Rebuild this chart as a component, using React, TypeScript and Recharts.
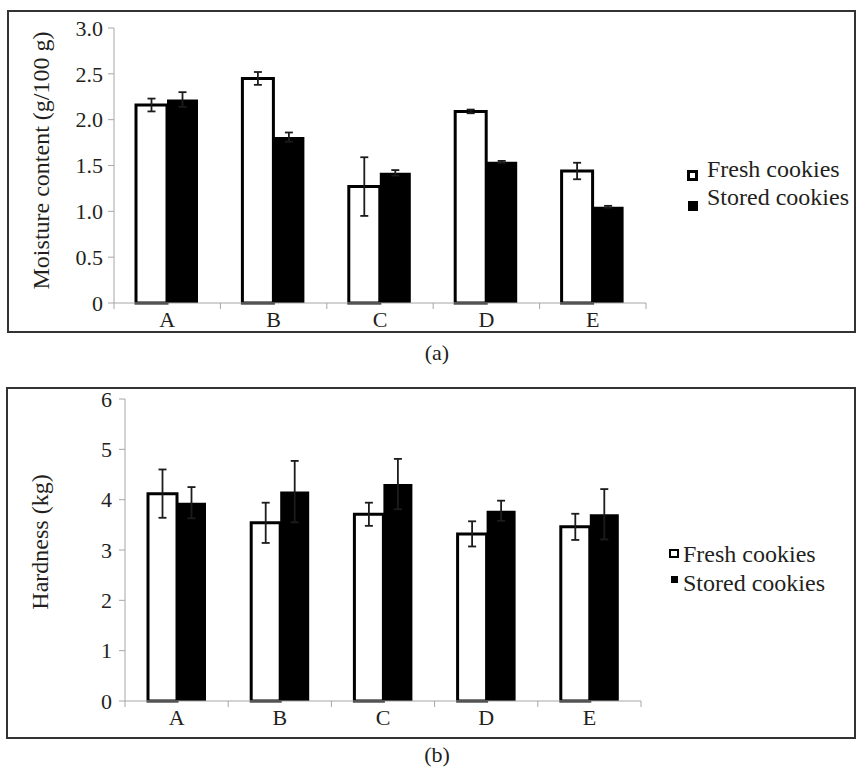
import React from 'react';
import { BarChart, Bar, XAxis, YAxis, ErrorBar, Legend } from 'recharts';

// samples and series
const samples = ['A', 'B', 'C', 'D', 'E'];
const seriesNames = ['Fresh cookies', 'Stored cookies'];

// (a) moisture content, g/100 g
const moistureFresh = [2.16, 2.45, 1.27, 2.09, 1.44];
const moistureFreshErr = [0.07, 0.07, 0.32, 0.02, 0.09];
const moistureStored = [2.22, 1.81, 1.42, 1.54, 1.05];
const moistureStoredErr = [0.08, 0.05, 0.03, 0.01, 0.01];
const moistureTicks = [0, 0.5, 1, 1.5, 2, 2.5, 3];

// (b) hardness, kg
const hardnessFresh = [4.12, 3.54, 3.71, 3.32, 3.46];
const hardnessFreshErr = [0.48, 0.4, 0.23, 0.25, 0.26];
const hardnessStored = [3.94, 4.16, 4.31, 3.78, 3.71];
const hardnessStoredErr = [0.31, 0.61, 0.5, 0.2, 0.5];
const hardnessTicks = [0, 1, 2, 3, 4, 5, 6];

const moistureData = samples.map((s, i) => ({
  sample: s,
  fresh: moistureFresh[i],
  freshErr: moistureFreshErr[i],
  stored: moistureStored[i],
  storedErr: moistureStoredErr[i],
}));

const hardnessData = samples.map((s, i) => ({
  sample: s,
  fresh: hardnessFresh[i],
  freshErr: hardnessFreshErr[i],
  stored: hardnessStored[i],
  storedErr: hardnessStoredErr[i],
}));

const FONT = "'Liberation Serif', 'Times New Roman', serif";
const TEXT = '#231f20';
const AXIS = '#a6a6a6';
const ERR = '#1c1c1c';

// category label at the centre, tick marks at the category boundaries
const CategoryTick = (props: any) => {
  const { x, y, payload } = props;
  const half = payload?.offset ?? 0;
  const axisY = y - 8;
  const last = payload.value === samples[samples.length - 1];
  return (
    <g>
      <line x1={x - half} x2={x - half} y1={axisY} y2={axisY + 6} stroke={AXIS} strokeWidth={1} />
      {last && <line x1={x + half} x2={x + half} y1={axisY} y2={axisY + 6} stroke={AXIS} strokeWidth={1} />}
      <text x={x} y={y} dy="0.71em" textAnchor="middle" fill={TEXT} fontSize={22} fontFamily={FONT}>
        {payload.value}
      </text>
    </g>
  );
};

const yTitle = (text: string, cx: number, shift: number) => (props: any) => {
  const vb = props.viewBox || { y: 0, height: 0 };
  const cy = vb.y + vb.height / 2 + shift;
  return (
    <text
      x={cx}
      y={cy}
      transform={`rotate(-90, ${cx}, ${cy})`}
      textAnchor="middle"
      dominantBaseline="central"
      fill={TEXT}
      fontSize={24}
      fontFamily={FONT}
    >
      {text}
    </text>
  );
};

const TopLegend = () => (
  <div style={{ fontFamily: FONT, fontSize: 24, color: TEXT, lineHeight: '28px', whiteSpace: 'nowrap' }}>
    <div style={{ position: 'relative', height: 28 }}>
      <span style={{ position: 'absolute', left: 0, top: 15, width: 11, height: 11, boxSizing: 'border-box', border: '3px solid #000', background: '#fff' }} />
      <span style={{ position: 'absolute', left: 20, top: 0 }}>{seriesNames[0]}</span>
    </div>
    <div style={{ position: 'relative', height: 28 }}>
      <span style={{ position: 'absolute', left: 1, top: 18, width: 10, height: 10, background: '#000' }} />
      <span style={{ position: 'absolute', left: 20, top: 0 }}>{seriesNames[1]}</span>
    </div>
  </div>
);

const BottomLegend = () => (
  <div style={{ fontFamily: FONT, fontSize: 24, color: TEXT, lineHeight: '29px', whiteSpace: 'nowrap' }}>
    <div style={{ position: 'relative', height: 29 }}>
      <span style={{ position: 'absolute', left: 0, top: 9, width: 10, height: 9, boxSizing: 'border-box', border: '2.5px solid #000', background: '#fff' }} />
      <span style={{ position: 'absolute', left: 14, top: 0 }}>{seriesNames[0]}</span>
    </div>
    <div style={{ position: 'relative', height: 29 }}>
      <span style={{ position: 'absolute', left: 2, top: 7, width: 7, height: 7, background: '#000' }} />
      <span style={{ position: 'absolute', left: 14, top: 0 }}>{seriesNames[1]}</span>
    </div>
  </div>
);

const frame: React.CSSProperties = {
  position: 'absolute',
  boxSizing: 'border-box',
  border: '2px solid #333',
};

const caption: React.CSSProperties = {
  position: 'absolute',
  width: 60,
  textAlign: 'center',
  fontFamily: FONT,
  fontSize: 22,
  color: TEXT,
  lineHeight: '26px',
};

export default function App() {
  return (
    <div style={{ position: 'absolute', left: 0, top: 0, width: 861, height: 770, background: '#fff' }}>
      <div style={{ ...frame, left: 7, top: 10, width: 849, height: 323 }} />
      <div style={{ ...frame, left: 6, top: 387, width: 850, height: 352 }} />

      <div style={{ position: 'absolute', left: 0, top: 0 }}>
        <BarChart width={861} height={340} data={moistureData} barGap={0} barSize={31}
          margin={{ top: 28, right: 215, bottom: 7, left: 0 }}>
          <XAxis dataKey="sample" height={30} tickSize={6} tickMargin={2} tickLine={false}
            axisLine={{ stroke: AXIS }} tick={<CategoryTick />} />
          <YAxis width={114} domain={[0, 3]} ticks={moistureTicks} interval={0} tickSize={6} tickMargin={5}
            axisLine={{ stroke: AXIS }} tickLine={{ stroke: AXIS }}
            tickFormatter={(v: number) => (v === 0 ? '0' : v.toFixed(1))}
            tick={{ fill: TEXT, fontSize: 22, fontFamily: FONT }}
            label={{ content: yTitle('Moisture content (g/100 g)', 41, -5) }} />
          <Legend layout="horizontal" verticalAlign="middle" content={<TopLegend />}
            wrapperStyle={{ left: 687, top: 155, width: 170 }} />
          <Bar dataKey="fresh" name={seriesNames[0]} fill="#fff" stroke="#000" strokeWidth={3} isAnimationActive={false}>
            <ErrorBar dataKey="freshErr" direction="y" width={4} stroke={ERR} strokeWidth={1.8} isAnimationActive={false} />
          </Bar>
          <Bar dataKey="stored" name={seriesNames[1]} fill="#000" isAnimationActive={false}>
            <ErrorBar dataKey="storedErr" direction="y" width={4} stroke={ERR} strokeWidth={1.8} isAnimationActive={false} />
          </Bar>
        </BarChart>
      </div>

      <div style={{ ...caption, left: 407, top: 340 }}>(a)</div>

      <div style={{ position: 'absolute', left: 0, top: 380 }}>
        <BarChart width={861} height={370} data={hardnessData} barGap={0} barSize={29}
          margin={{ top: 19, right: 220, bottom: 19, left: 0 }}>
          <XAxis dataKey="sample" height={30} tickSize={6} tickMargin={2} tickLine={false}
            axisLine={{ stroke: AXIS }} tick={<CategoryTick />} />
          <YAxis width={125} domain={[0, 6]} ticks={hardnessTicks} interval={0} tickSize={6} tickMargin={7}
            axisLine={{ stroke: AXIS }} tickLine={{ stroke: AXIS }}
            tick={{ fill: TEXT, fontSize: 22, fontFamily: FONT }}
            label={{ content: yTitle('Hardness (kg)', 40, -8) }} />
          <Legend layout="horizontal" verticalAlign="middle" content={<BottomLegend />}
            wrapperStyle={{ left: 669, top: 160, width: 180 }} />
          <Bar dataKey="fresh" name={seriesNames[0]} fill="#fff" stroke="#000" strokeWidth={3} isAnimationActive={false}>
            <ErrorBar dataKey="freshErr" direction="y" width={4} stroke={ERR} strokeWidth={1.8} isAnimationActive={false} />
          </Bar>
          <Bar dataKey="stored" name={seriesNames[1]} fill="#000" isAnimationActive={false}>
            <ErrorBar dataKey="storedErr" direction="y" width={4} stroke={ERR} strokeWidth={1.8} isAnimationActive={false} />
          </Bar>
        </BarChart>
      </div>

      <div style={{ ...caption, left: 407, top: 742 }}>(b)</div>
    </div>
  );
}
